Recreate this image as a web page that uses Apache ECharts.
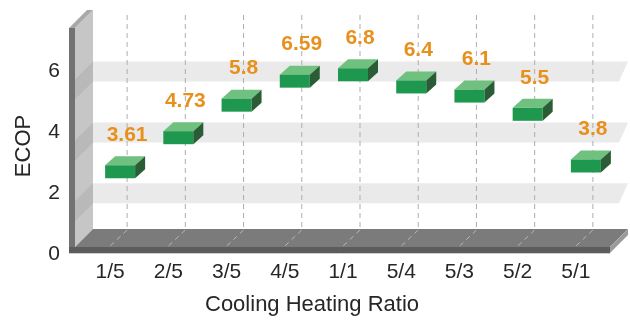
<!DOCTYPE html>
<html>
<head>
<meta charset="utf-8">
<script src="https://cdn.jsdelivr.net/npm/echarts@6/dist/echarts.min.js"></script>
<style>
  html, body { margin: 0; padding: 0; background: #ffffff; }
  #chart { width: 630px; height: 322px; }
</style>
</head>
<body>
<div id="chart"></div>
<script>
// Cooling/heating ratio categories and the ECOP reached at each
const ratios = ['1/5', '2/5', '3/5', '4/5', '1/1', '5/4', '5/3', '5/2', '5/1'];
const ecop = [3.61, 4.73, 5.8, 6.59, 6.8, 6.4, 6.1, 5.5, 3.8];
const ecopTicks = [0, 2, 4, 6];

const FONT = '"Liberation Sans", Arial, Helvetica, sans-serif';

// Pseudo-3D depth: offset from the front plane to the back wall
const DX = 18, DY = -18;
// Block geometry (front face, depth) and how far it hangs below its value level
const BLOCK_W = 30, BLOCK_H = 13, BLOCK_DX = 10, BLOCK_DY = -9;
const BLOCK_SHIFT_X = 10, BLOCK_DROP = 21;

// Walls, floor slab, shaded bands and dashed category guides
function renderFrame(params, api) {
  const cs = params.coordSys;
  const y0 = api.coord([0, 0])[1];
  const L = cs.x - 6;                  // front edge of the left wall face
  const floorTop = y0 - 7;
  const floorBottom = y0 - 1;
  const Rf = cs.x + cs.width + 5;      // front-right corner of the floor
  const wallTop = cs.y + 2;
  const children = [];

  // shaded bands on the back wall around each labelled tick
  ecopTicks.filter(t => t > 0).forEach(t => {
    const yc = api.coord([0, t])[1];
    const top = yc - 10, bot = yc + 10;
    children.push({
      type: 'polygon',
      shape: { points: [[L + DX, top], [Rf + DX, top], [Rf + DX - 9, bot], [L + DX, bot]] },
      style: { fill: '#eaeaea' }
    });
  });

  // left wall face, with the bands continuing across it
  children.push({
    type: 'polygon',
    shape: { points: [[L, wallTop], [L + DX, wallTop + DY], [L + DX, floorTop + DY], [L, floorTop]] },
    style: { fill: '#c6c6c6' }
  });
  ecopTicks.filter(t => t > 0).forEach(t => {
    const yc = api.coord([0, t])[1];
    const top = yc - 10, bot = yc + 10;
    children.push({
      type: 'polygon',
      shape: { points: [[L + DX, top], [L + DX, bot], [L, bot - DY], [L, top - DY]] },
      style: { fill: '#b9b9b9' }
    });
  });
  // wall top edge and front strip
  children.push({
    type: 'polygon',
    shape: { points: [[L - 6, wallTop], [L, wallTop], [L + DX, wallTop + DY], [L - 6 + DX, wallTop + DY]] },
    style: { fill: '#a9a9a9' }
  });
  children.push({
    type: 'rect',
    shape: { x: L - 6, y: wallTop, width: 6, height: floorBottom - wallTop },
    style: { fill: '#727272' }
  });

  // dashed guides on the back wall
  ratios.forEach((r, i) => {
    const xb = api.coord([i, 0])[0] + DX - 1;
    children.push({
      type: 'line',
      shape: { x1: xb, y1: cs.y - 11, x2: xb, y2: floorTop + DY },
      style: { stroke: '#adadad', lineWidth: 1, lineDash: [5, 4] }
    });
  });

  // floor top face
  children.push({
    type: 'polygon',
    shape: { points: [[L, floorTop], [Rf, floorTop], [Rf + DX, floorTop + DY], [L + DX, floorTop + DY]] },
    style: { fill: '#7b7b7b' }
  });
  // dashed guides across the floor
  ratios.forEach((r, i) => {
    const xb = api.coord([i, 0])[0] + DX - 1;
    children.push({
      type: 'line',
      shape: { x1: xb, y1: floorTop + DY + 1, x2: xb - DX, y2: floorTop },
      style: { stroke: '#b8b8b8', lineWidth: 1, lineDash: [5, 4] }
    });
  });
  // slab front and right side
  children.push({
    type: 'rect',
    shape: { x: L - 6, y: floorTop, width: Rf - L + 6, height: floorBottom - floorTop },
    style: { fill: '#5c5c5c' }
  });
  children.push({
    type: 'polygon',
    shape: { points: [[Rf, floorTop], [Rf + DX, floorTop + DY], [Rf + DX, floorBottom + DY], [Rf, floorBottom]] },
    style: { fill: '#9a9a9a' }
  });
  children.push({
    type: 'line',
    shape: { x1: L - 6, y1: floorBottom + 0.5, x2: Rf, y2: floorBottom + 0.5 },
    style: { stroke: '#cfcfcf', lineWidth: 1 }
  });

  return { type: 'group', children: children };
}

// One floating green block per ratio, with its ECOP value above it
function renderBlock(params, api) {
  const idx = api.value(0);
  const val = api.value(1);
  const p = api.coord([idx, val]);
  const x0 = p[0] + BLOCK_SHIFT_X - BLOCK_W / 2;
  const top = p[1] + BLOCK_DROP;
  return {
    type: 'group',
    children: [
      {
        type: 'polygon',
        shape: { points: [[x0, top], [x0 + BLOCK_W, top], [x0 + BLOCK_W + BLOCK_DX, top + BLOCK_DY], [x0 + BLOCK_DX, top + BLOCK_DY]] },
        style: { fill: '#70c07f' }
      },
      {
        type: 'rect',
        shape: { x: x0, y: top, width: BLOCK_W, height: BLOCK_H },
        style: { fill: '#1f984f' }
      },
      {
        type: 'polygon',
        shape: { points: [[x0 + BLOCK_W, top], [x0 + BLOCK_W + BLOCK_DX, top + BLOCK_DY], [x0 + BLOCK_W + BLOCK_DX, top + BLOCK_DY + BLOCK_H], [x0 + BLOCK_W, top + BLOCK_H]] },
        style: { fill: '#2a5c36' }
      },
      {
        type: 'text',
        style: {
          x: p[0] + DX - 1, y: top - 30,
          text: String(val),
          fill: '#e8901c',
          font: 'bold 21px ' + FONT,
          align: 'center', verticalAlign: 'middle'
        }
      }
    ]
  };
}

const chart = echarts.init(document.getElementById('chart'), null, { renderer: 'canvas' });
chart.setOption({
  backgroundColor: '#ffffff',
  animation: false,
  grid: { left: 81, right: 25, top: 26, bottom: 68, containLabel: false, outerBoundsMode: 'none' },
  xAxis: {
    type: 'category',
    data: ratios,
    boundaryGap: true,
    axisLine: { show: false },
    axisTick: { show: false },
    splitLine: { show: false },
    axisLabel: { fontSize: 21, color: '#262626', fontFamily: FONT, margin: 8 }
  },
  yAxis: {
    type: 'value',
    min: 0, max: 7.5, interval: 2,
    axisLine: { show: false },
    axisTick: { show: false },
    splitLine: { show: false },
    axisLabel: {
      fontSize: 21, color: '#262626', fontFamily: FONT, margin: 21,
      formatter: v => (ecopTicks.indexOf(v) >= 0 ? String(v) : '')
    }
  },
  graphic: [
    {
      type: 'text', x: 24, y: 146, rotation: Math.PI / 2,
      style: { text: 'ECOP', font: '22px ' + FONT, fill: '#262626', align: 'center', verticalAlign: 'middle' }
    },
    {
      type: 'text', x: 312, y: 305,
      style: { text: 'Cooling Heating Ratio', font: '22px ' + FONT, fill: '#262626', align: 'center', verticalAlign: 'middle' }
    }
  ],
  series: [
    {
      type: 'custom',
      renderItem: renderFrame,
      data: [[0, 0]],
      z: 1,
      silent: true
    },
    {
      type: 'custom',
      renderItem: renderBlock,
      data: ecop.map((v, i) => [i, v]),
      z: 5
    }
  ]
});
</script>
</body>
</html>
